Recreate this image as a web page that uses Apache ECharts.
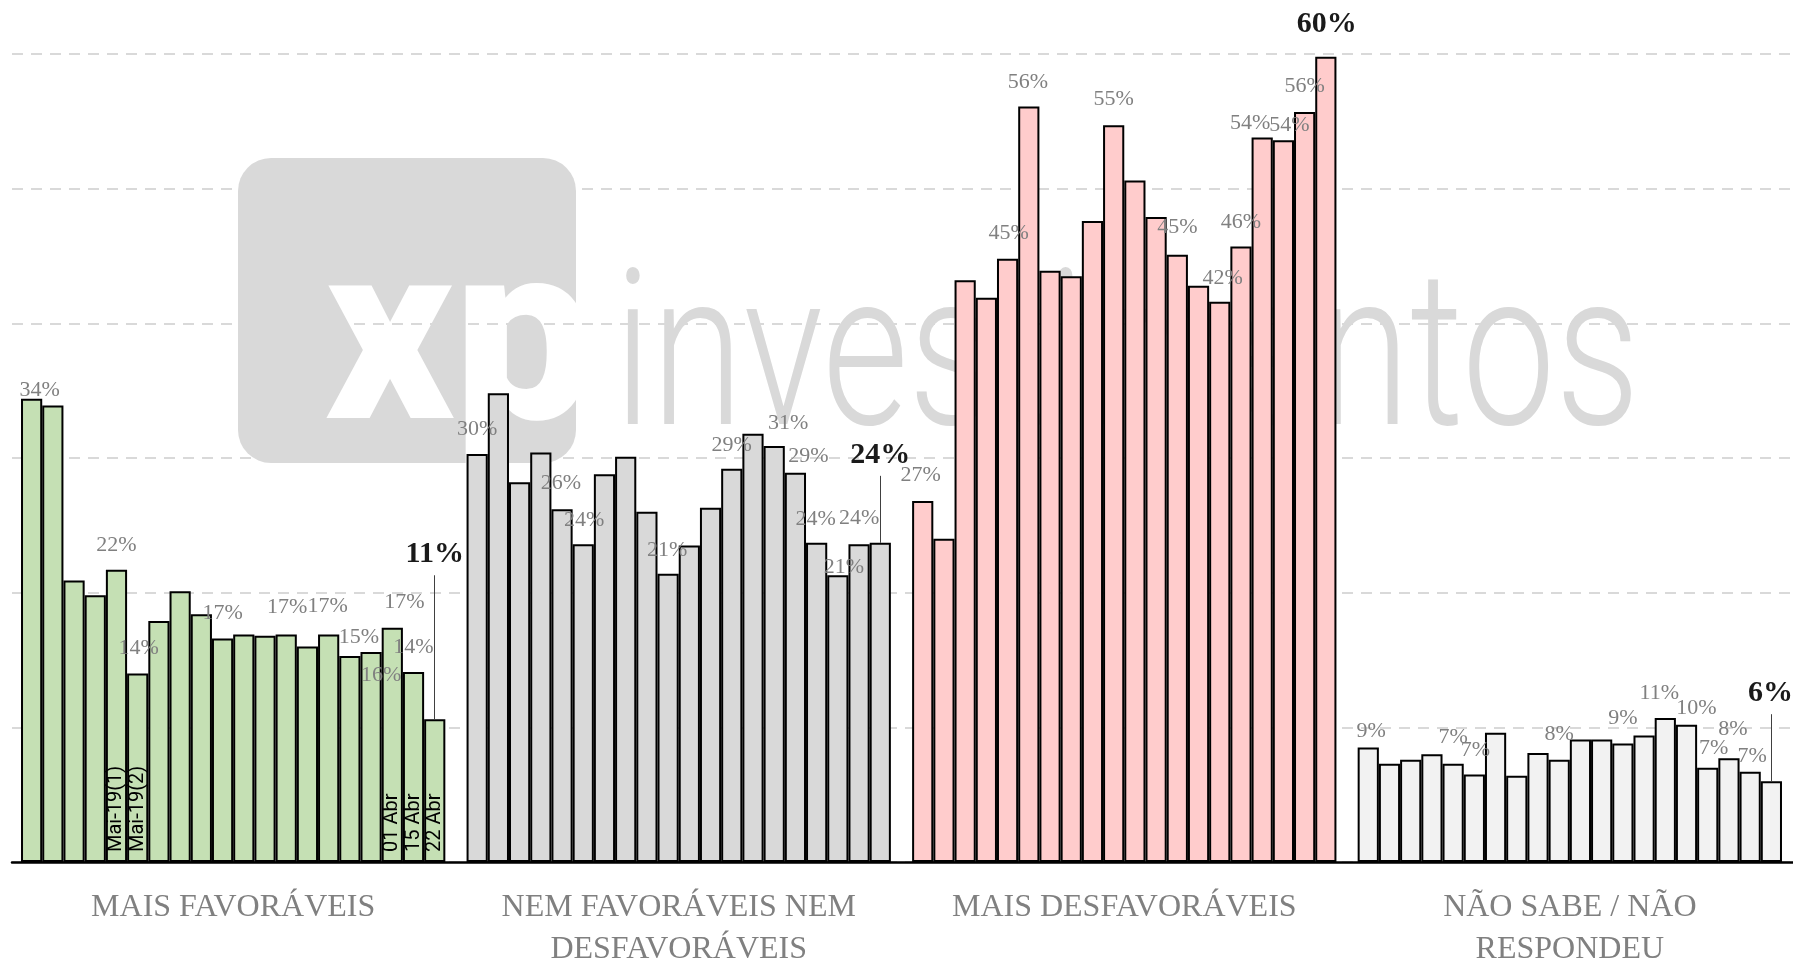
<!DOCTYPE html>
<html>
<head>
<meta charset="utf-8">
<title>Avaliação</title>
<script src="https://cdn.jsdelivr.net/npm/echarts@6/dist/echarts.min.js"></script>
<style>
  html, body { margin: 0; padding: 0; background: #fff; }
  #chart { width: 1793px; height: 962px; }
</style>
</head>
<body>
<div id="chart"></div>
<script>
// grupos (eixo x)
var groupNames = ["MAIS FAVORÁVEIS", "NEM FAVORÁVEIS NEM\nDESFAVORÁVEIS", "MAIS DESFAVORÁVEIS", "NÃO SABE / NÃO\nRESPONDEU"];

// % por rodada de pesquisa
var maisFavoraveis = [34.4, 33.9, 20.9, 19.8, 21.7, 14.0, 17.9, 20.1, 18.4, 16.6, 16.9, 16.8, 16.9, 16.0, 16.9, 15.3, 15.6, 17.4, 14.1, 10.6];
var nemFavNemDesf = [30.3, 34.8, 28.2, 30.4, 26.2, 23.6, 28.8, 30.1, 26.0, 21.4, 23.5, 26.3, 29.2, 31.8, 30.9, 28.9, 23.7, 21.3, 23.6, 23.7];
var maisDesfavoraveis = [26.8, 24.0, 43.2, 41.9, 44.8, 56.1, 43.9, 43.5, 47.6, 54.7, 50.6, 47.9, 45.1, 42.8, 41.6, 45.7, 53.8, 53.6, 55.7, 59.8];
var naoSabe = [8.5, 7.3, 7.6, 8.0, 7.3, 6.5, 9.6, 6.4, 8.1, 7.6, 9.1, 9.1, 8.8, 9.4, 10.7, 10.2, 7.0, 7.7, 6.7, 6.0];

// rodadas marcadas no primeiro grupo
var roundNames = { 4: "Mai-19(1)", 5: "Mai-19(2)", 17: "01 Abr", 18: "15 Abr", 19: "22 Abr" };

// rodadas com rótulo de valor
var labeledRounds = [0, 4, 5, 9, 12, 14, 15, 16, 17, 18];
var lastRound = 19;

var yTicks = [0, 10, 20, 30, 40, 50, 60];

// ajustes de posição dos rótulos (centro do texto em px, relativo ao topo da barra)
var nudges = [
  [[8, -9], [0, -25], [1, -25], [0, -25], [1, -27], [-1, -28], [9, -19], [10, 23], [12, -25], [0, -25]],
  [[0, -25], [-1, -26], [1, -24], [-1, -24], [0, -24], [14, -23], [13, -17], [-1, -24], [6, -8], [0, -26]],
  [[-2, -26], [1, -25], [-1, -24], [0, -26], [0, -27], [3, -24], [0, -24], [-12, -14], [6, -15], [0, -26]],
  [[3, -16], [0, -26], [1, -24], [0, -25], [0, -25], [-6, -25], [10, -16], [6, -20], [4, -29], [2, -16]]
];
var lastNudges = [[0, -165], [0, -88], [1, -32], [-1, -88]];
var leaderLine = [true, true, false, true];
var colors = ["#c5e0b4", "#d9d9d9", "#ffcccc", "#f2f2f2"];

var gridTop = 54, gridBottom = 100;
var pxPerPct = (962 - gridTop - gridBottom) / 60;
var slot = 21.2;

var chart = echarts.init(document.getElementById("chart"));

function pct(p) {
  return Math.round(p.value[1]) + "%";
}

function buildSeries(name, values, g) {
  var data = values.map(function (v, j) {
    var item = { value: [g * 21 + j, v] };
    var k = labeledRounds.indexOf(j);
    if (k >= 0) {
      item.label = { show: true, offset: [nudges[g][k][0], nudges[g][k][1] + 11] };
    }
    if (j === lastRound) {
      item.label = {
        show: true,
        fontSize: 30,
        lineHeight: 30,
        fontWeight: "bold",
        color: "#1a1a1a",
        offset: [lastNudges[g][0], lastNudges[g][1] + 15]
      };
    }
    return item;
  });
  var s = {
    name: name,
    type: "bar",
    barWidth: slot,
    barGap: "-100%",
    data: data,
    itemStyle: { color: colors[g], borderColor: "#000", borderWidth: 2 },
    label: {
      show: false,
      position: "top",
      distance: 0,
      formatter: pct,
      fontFamily: "Liberation Serif",
      fontSize: 22,
      lineHeight: 22,
      color: "#808080"
    }
  };
  if (leaderLine[g]) {
    var x = g * 21 + lastRound;
    var v = values[lastRound];
    s.markLine = {
      silent: true,
      symbol: "none",
      label: { show: false },
      lineStyle: { color: "#404040", width: 1, type: "solid" },
      data: [[{ coord: [x, v] }, { coord: [x, v + (-lastNudges[g][1] - 21) / pxPerPct] }]]
    };
  }
  return s;
}

var roundData = Object.keys(roundNames).map(function (j) {
  j = +j;
  return { value: [j, maisFavoraveis[j]], label: { show: true, formatter: roundNames[j] } };
});

var option = {
  animation: false,
  backgroundColor: "#fff",
  grid: { left: 12, right: 0, top: gridTop, bottom: gridBottom, outerBoundsMode: "none" },
  graphic: [
    { type: "rect", z: -1, shape: { x: 238, y: 158, width: 338, height: 305, r: 33 }, style: { fill: "#d9d9d9" } },
    {
      type: "text", z: -1, x: 325, y: 355,
      style: { text: "xp", fontFamily: "Roboto", fontWeight: 900, fontSize: 250, fill: "#fff", textAlign: "left", textVerticalAlign: "middle" }
    },
    { type: "rect", z: -1, shape: { x: 577, y: 260, width: 40, height: 240 }, style: { fill: "#fff" } },
    { type: "rect", z: -1, shape: { x: 420, y: 464, width: 160, height: 40 }, style: { fill: "#fff" } },
    {
      type: "text", z: -1, x: 614, y: 369, scaleX: 0.765,
      style: { text: "investimentos", fontFamily: "Roboto", fontWeight: 300, fontSize: 218, fill: "#d9d9d9", textAlign: "left", textVerticalAlign: "middle" }
    }
  ],
  xAxis: {
    type: "value",
    min: -0.5 - 9 / slot,
    max: 82.5 + 11 / slot,
    splitLine: { show: false },
    axisTick: { show: false },
    axisLine: { show: true, onZero: false, lineStyle: { color: "#000", width: 2.5 } },
    axisLabel: {
      customValues: [9.5, 30.5, 51.5, 72.5],
      formatter: function (v) { return groupNames[Math.round((v - 9.5) / 21)]; },
      fontFamily: "Liberation Serif",
      fontSize: 32,
      lineHeight: 42,
      color: "#808080",
      margin: 25
    }
  },
  yAxis: {
    type: "value",
    min: yTicks[0],
    max: yTicks[yTicks.length - 1],
    interval: 10,
    axisLine: { show: false },
    axisTick: { show: false },
    axisLabel: { show: false },
    splitLine: { lineStyle: { color: "#d9d9d9", width: 2, type: [11, 8] } }
  },
  series: [
    buildSeries(groupNames[0], maisFavoraveis, 0),
    buildSeries(groupNames[1], nemFavNemDesf, 1),
    buildSeries(groupNames[2], maisDesfavoraveis, 2),
    buildSeries(groupNames[3], naoSabe, 3),
    {
      name: "rodadas",
      type: "bar",
      barWidth: slot,
      barGap: "-100%",
      silent: true,
      z: 3,
      data: roundData,
      itemStyle: { color: "rgba(0,0,0,0)", borderWidth: 0 },
      label: {
        position: "insideBottom",
        distance: 10,
        rotate: 90,
        align: "left",
        verticalAlign: "middle",
        fontFamily: "Roboto",
        fontSize: 20,
        color: "#000"
      }
    }
  ]
};

chart.setOption(option);
window.addEventListener("resize", chart.resize);
</script>
</body>
</html>
